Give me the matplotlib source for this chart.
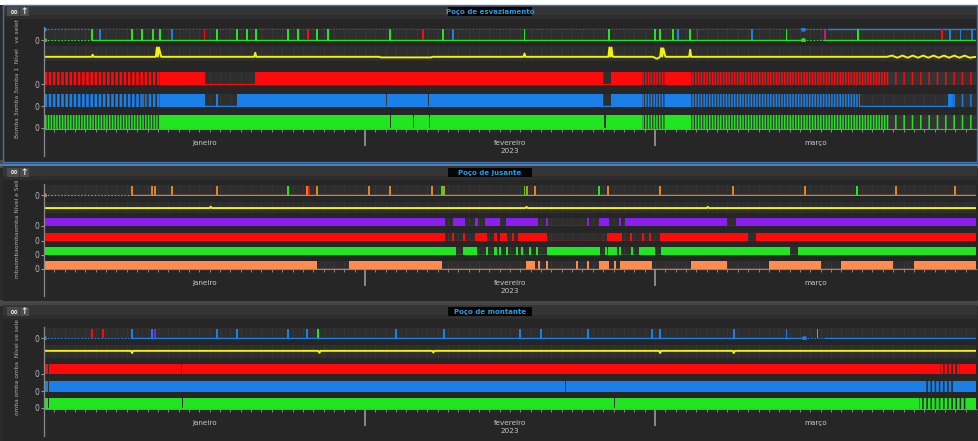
import numpy as np
import matplotlib.pyplot as plt
from matplotlib.patches import Rectangle
from matplotlib.lines import Line2D

W, H = 979, 441
plt.rcParams['hatch.linewidth'] = 1.1
plt.rcParams['font.family'] = ['DejaVu Sans']

# time axis: days since 1 Jan 2023
months = ['janeiro', 'fevereiro', 'março']
month_start = [0, 31, 59, 90]
year_label = '2023'

GREEN = '#1fe61f'
RED = '#ff0a0a'
BLUE = '#1a80e8'
YELLOW = '#f2f20a'
PURPLE = '#8c1ff0'
SALMON = '#ff8c4f'
AMBER = '#d9862a'
MAGENTA = '#c0207a'

# ---- Poço de esvaziamento ----
p1_title = 'Poço de esvaziamento'
p1_ylabel = 'Bomba 3omba 3omba 1  Nível   ve selet'
p1_pulses = [(4.6, 'g'), (5.4, 'b'), (8.5, 'g'), (9.5, 'g'), (10.5, 'g'), (11.2, 'g'),
             (12.4, 'b'), (15.5, 'r'), (16.7, 'g'), (18.6, 'g'), (19.6, 'g'), (20.5, 'g'),
             (23.6, 'g'), (24.5, 'g'), (25.5, 'r'), (26.4, 'g'), (27.4, 'g'), (33.4, 'g'),
             (36.6, 'r'), (38.5, 'g'), (39.5, 'b'), (46.4, 'g'), (54.6, 'g'), (59.0, 'g'),
             (59.5, 'g'), (60.7, 'g'), (61.2, 'b'), (62.4, 'g'), (63.1, 'r'), (68.4, 'b'),
             (71.7, 'g'), (75.4, 'm'), (78.6, 'g'), (86.7, 'r'), (87.5, 'b'), (88.5, 'b'),
             (89.6, 'b')]
p1_nodata = [(0, 4.6), (73.3, 75.2)]
p1_lvl_day = [0, 4.6, 4.7, 4.8, 10.8, 10.9, 11.0, 11.1, 11.3, 11.4, 20.3, 20.4, 20.5,
              32.4, 32.5, 37.4, 37.5, 46.3, 46.4, 46.5, 54.5, 54.6, 54.7, 54.8, 54.9, 55.0,
              58.8, 59.2, 59.5, 59.6, 59.7, 59.8, 60.0, 60.1, 62.3, 62.4, 62.5, 81.4, 81.9,
              82.4, 82.9, 83.4, 83.9, 84.4, 84.9, 85.4, 85.9, 86.4, 86.9, 87.4, 87.9, 88.4,
              88.9, 89.4, 90]
p1_lvl_val = [0.28, 0.28, 0.42, 0.28, 0.28, 0.9, 0.3, 0.9, 0.3, 0.28, 0.28, 0.55, 0.28,
              0.28, 0.24, 0.24, 0.28, 0.28, 0.5, 0.28, 0.28, 0.9, 0.3, 0.9, 0.3, 0.28,
              0.28, 0.15, 0.28, 0.85, 0.3, 0.85, 0.3, 0.28, 0.28, 0.75, 0.28, 0.28, 0.36,
              0.22, 0.36, 0.22, 0.36, 0.22, 0.36, 0.22, 0.36, 0.22, 0.36, 0.22, 0.36, 0.22,
              0.36, 0.22, 0.28]
p1_bomba1 = [(0, 11.2, 'cyc'), (11.2, 15.5, 'on'), (20.4, 54.0, 'on'), (54.8, 57.7, 'on'),
             (57.7, 60.1, 'alt'), (60.1, 62.4, 'on'), (62.4, 81.4, 'alt'), (81.4, 90, 'sp')]
p1_bomba2 = [(0, 9.5, 'cyc'), (9.5, 10.0, 'alt'), (10.0, 11.2, 'cyc'), (11.2, 15.5, 'on'),
             (16.6, 16.8, 'on'), (18.6, 33.0, 'on'), (33.1, 37.1, 'on'), (37.2, 54.0, 'on'),
             (54.8, 57.7, 'on'), (57.7, 60.1, 'alt'), (60.1, 62.4, 'on'), (62.4, 78.8, 'alt'),
             (87.3, 87.8, 'on'), (87.8, 90, 'sp')]
p1_bomba3 = [(0, 11.2, 'alt'), (11.2, 33.4, 'on'), (33.5, 35.6, 'on'), (35.7, 37.2, 'on'),
             (37.3, 54.1, 'on'), (54.3, 57.7, 'on'), (57.7, 60.1, 'alt'), (60.1, 62.4, 'on'),
             (62.4, 81.4, 'alt'), (81.4, 90, 'sp')]

# ---- Poço de jusante ----
p2_title = 'Poço de jusante'
p2_ylabel = 'mbaombaombaomba Nível e Seli'
p2_pulses = [(8.5, 'o'), (10.4, 'o'), (10.7, 'o'), (12.4, 'o'), (16.7, 'o'), (23.6, 'g'),
             (25.4, 'o'), (25.6, 'r'), (26.4, 'o'), (31.4, 'o'), (33.4, 'o'), (37.5, 'o'),
             (38.4, 'g'), (38.6, 'o'), (46.4, 'g'), (46.6, 'o'), (47.4, 'o'), (53.6, 'g'),
             (54.5, 'o'), (59.5, 'o'), (66.5, 'o'), (73.5, 'o'), (78.5, 'g'), (82.3, 'o'),
             (88.0, 'o')]
p2_nodata = [(0, 8.4)]
p2_lvl_day = [0, 16.0, 16.1, 16.2, 46.5, 46.6, 46.7, 64.0, 64.1, 64.2, 90]
p2_lvl_val = [0.45, 0.45, 0.58, 0.45, 0.45, 0.56, 0.45, 0.45, 0.56, 0.45, 0.45]
p2_bomba1 = [(0, 38.7, 'on'), (39.5, 40.7, 'on'), (41.6, 41.9, 'on'), (42.6, 44.0, 'on'),
             (44.6, 47.7, 'on'), (48.5, 48.7, 'on'), (52.4, 52.6, 'on'), (53.6, 54.6, 'on'),
             (55.5, 55.7, 'on'), (56.1, 66.0, 'on'), (66.8, 90, 'on')]
p2_bomba2 = [(0, 38.7, 'on'), (39.4, 39.6, 'on'), (40.5, 40.7, 'on'), (41.6, 42.8, 'on'),
             (43.5, 43.7, 'on'), (44.0, 44.7, 'on'), (45.2, 45.4, 'on'), (45.8, 48.6, 'on'),
             (54.4, 55.8, 'on'), (56.6, 56.8, 'on'), (57.7, 57.9, 'on'), (58.4, 58.6, 'on'),
             (59.5, 68.0, 'on'), (68.8, 90, 'on')]
p2_bomba3 = [(0, 39.8, 'on'), (40.5, 41.8, 'on'), (42.7, 42.9, 'on'), (43.5, 43.7, 'on'),
             (43.9, 44.1, 'on'), (44.6, 44.8, 'on'), (45.6, 45.8, 'on'), (46.1, 46.3, 'on'),
             (46.8, 47.0, 'on'), (47.5, 47.7, 'on'), (48.6, 53.7, 'on'), (54.2, 54.4, 'on'),
             (54.5, 55.3, 'on'), (55.5, 55.7, 'on'), (56.7, 56.9, 'on'), (57.5, 59.0, 'on'),
             (59.6, 72.0, 'on'), (72.8, 90, 'on')]
p2_bomba4 = [(0, 26.4, 'on'), (29.5, 38.4, 'on'), (46.5, 47.4, 'on'), (47.7, 47.9, 'on'),
             (48.5, 48.7, 'on'), (51.4, 51.6, 'on'), (52.4, 52.6, 'on'), (53.6, 54.6, 'on'),
             (55.0, 55.2, 'on'), (55.6, 58.7, 'on'), (62.5, 66.0, 'on'), (70.0, 75.0, 'on'),
             (77.0, 82.0, 'on'), (84.0, 90, 'on')]

# ---- Poço de montante ----
p3_title = 'Poço de montante'
p3_ylabel = 'omba omba omba  Nível ve sele'
p3_pulses = [(4.6, 'r'), (5.7, 'r'), (8.5, 'b'), (10.4, 'b'), (10.7, 'p'), (16.7, 'b'),
             (18.6, 'b'), (23.6, 'b'), (25.4, 'b'), (26.5, 'g'), (34.0, 'b'), (38.6, 'b'),
             (46.0, 'b'), (48.0, 'b'), (52.5, 'b'), (58.7, 'b'), (59.5, 'b'), (66.6, 'b'),
             (71.7, 'b'), (74.7, 'g')]
p3_nodata = [(0, 8.4), (73.4, 75.4)]
p3_lvl_day = [0, 8.4, 8.5, 8.6, 26.5, 26.6, 26.7, 37.5, 37.6, 37.7, 59.4, 59.5, 59.6,
              66.5, 66.6, 66.7, 90]
p3_lvl_val = [0.55, 0.55, 0.38, 0.55, 0.55, 0.4, 0.55, 0.55, 0.42, 0.55, 0.55, 0.38, 0.55,
              0.55, 0.38, 0.55, 0.55]
p3_bomba1 = [(0, 0.4, 'on'), (0.5, 13.2, 'on'), (13.3, 79.0, 'on'), (79.0, 86.5, 'on'),
             (86.5, 88.5, 'cyc'), (88.5, 90, 'on')]
p3_bomba2 = [(0, 0.4, 'on'), (0.5, 50.3, 'on'), (50.4, 85.0, 'on'), (85.0, 88.0, 'cyc'),
             (88.0, 90, 'on')]
p3_bomba3 = [(0, 0.4, 'on'), (0.5, 13.3, 'on'), (13.4, 55.0, 'on'), (55.1, 84.5, 'on'),
             (84.5, 89.0, 'cyc'), (89.0, 90, 'on')]

pulse_colors = {'g': GREEN, 'r': RED, 'b': BLUE, 'm': MAGENTA, 'o': AMBER, 'p': PURPLE}

TRACK_BG = '#2e2e2e'
GRID = '#3a3a3a'
OFF = '#343434'
X0, X1 = 44, 976

fig = plt.figure(figsize=(W / 100, H / 100), dpi=100)
fig.patch.set_facecolor('#2a2a2a')


def fx(x):
    return x / W


def fy(y):
    return 1 - y / H


def frect(x0, y0, x1, y1, z=-10, **kw):
    fig.add_artist(Rectangle((fx(x0), fy(y1)), fx(x1) - fx(x0), fy(y0) - fy(y1),
                             transform=fig.transFigure, zorder=z, **kw))


def track(top, bottom, zero=True):
    ax = fig.add_axes([fx(X0), fy(bottom), fx(X1) - fx(X0), fy(top) - fy(bottom)])
    ax.set_xlim(0, 90)
    ax.set_ylim(0, 1)
    ax.set_facecolor(TRACK_BG)
    for s in ax.spines.values():
        s.set_visible(False)
    ax.set_xticks([])
    ax.vlines(np.arange(1, 90), 0, 1, color=GRID, lw=0.5, zorder=0)
    if zero:
        ax.set_yticks([0.05])
        ax.set_yticklabels(['0'], fontsize=5.5, color='#b8b8b8')
        ax.tick_params(axis='y', length=2.5, color='#9a9a9a', pad=1, width=0.8)
    else:
        ax.set_yticks([])
    return ax


def state_track(top, bottom, segs, color):
    ax = track(top, bottom)
    ax.axhline(0.04, color=color, lw=1.0, zorder=1)
    for a, b, st in segs:
        if st == 'on':
            ax.add_patch(Rectangle((a, 0), b - a, 1, color=color, lw=0, zorder=2))
        elif st == 'cyc':
            ax.add_patch(Rectangle((a, 0), b - a, 1, facecolor=color, edgecolor='#2a2a2a',
                                   hatch='||||', lw=0, zorder=2))
        elif st == 'alt':
            ax.add_patch(Rectangle((a, 0), b - a, 1, facecolor=OFF, edgecolor=color,
                                   hatch='||||||', lw=0, zorder=2))
        else:
            ax.add_patch(Rectangle((a, 0), b - a, 1, facecolor=OFF, edgecolor=color,
                                   hatch='||', lw=0, zorder=2))
    return ax


def event_track(top, bottom, pulses, nodata, base, top_dots=False, top_color=None,
                top_from=None):
    ax = track(top, bottom)
    start = nodata[0][1]
    # dotted stretches where no state was logged
    for a, b in nodata:
        if top_dots:
            ax.plot([a, b], [0.92, 0.92], color=BLUE, lw=0.8, ls=(0, (1.5, 1.5)), zorder=2)
            ax.plot([a], [0.92], 'o', color=BLUE, ms=2.5, zorder=3)
        ax.plot([a, b], [0.06, 0.06], color=base, lw=0.8, ls=(0, (1.5, 1.5)), zorder=2)
        ax.plot([a], [0.06], 'o', color=base, ms=2.5, zorder=3)
    segs = [(start, 90)]
    for a, b in nodata[1:]:
        segs = [(s, e) for s, e in segs if e <= a] + \
               [(s, a) for s, e in segs if s < a < e] + [(b, e) for s, e in segs if s < a < e]
    for s, e in segs:
        ax.plot([s, e], [0.06, 0.06], color=base, lw=1.0, zorder=2)
    if top_dots:
        ax.plot([start, 90], [0.92, 0.92], color='#44586e', lw=0.6, ls=(0, (2, 2)), zorder=1)
    if top_color is not None:
        ax.plot([top_from, 90], [0.92, 0.92], color=top_color, lw=1.0, zorder=2)
    for d, c in pulses:
        ax.bar(d, 0.88, bottom=0.06, width=0.18, color=pulse_colors[c], lw=0, zorder=4)
    return ax


def level_track(top, bottom, days, vals):
    ax = track(top, bottom, zero=False)
    ax.plot(days, vals, color=YELLOW, lw=1.4, zorder=3)
    ax.plot([0, 0], [0.1, 0.75], color='#bbbbbb', lw=0.8)
    return ax


def time_axis(y_axis, y_top, y_bottom):
    ax = fig.add_axes([fx(X0), fy(y_bottom), fx(X1) - fx(X0), fy(y_axis) - fy(y_bottom)])
    ax.set_xlim(0, 90)
    ax.set_ylim(0, 1)
    ax.patch.set_visible(False)
    for k, s in ax.spines.items():
        s.set_visible(k == 'top')
    ax.spines['top'].set_color('#8a8a8a')
    ax.spines['top'].set_linewidth(0.8)
    ax.xaxis.set_ticks_position('top')
    ax.set_xticks(month_start[1:-1])
    ax.set_xticklabels([])
    ax.set_xticks(np.arange(1, 90), minor=True)
    ax.tick_params(axis='x', which='major', direction='in', length=12, width=1.4,
                   color='#8a8a8a')
    ax.tick_params(axis='x', which='minor', direction='in', length=2.5, width=0.7,
                   color='#8a8a8a')
    ax.set_yticks([])
    for i, name in enumerate(months):
        mid = (month_start[i] + month_start[i + 1]) / 2
        ax.text(mid, 0.48, name, ha='center', va='center', fontsize=5.2, color='#c8c8c8')
    mid = (month_start[1] + month_start[2]) / 2
    ax.text(mid, 0.18, year_label, ha='center', va='center', fontsize=5.2, color='#c8c8c8')
    fig.add_artist(Line2D([fx(X0), fx(X0)], [fy(y_top), fy(y_bottom)],
                          transform=fig.transFigure, color='#8a8a8a', lw=0.9))


def panel(top, bottom, title, ylabel, lab_top, lab_bottom, blue_border=False):
    frect(3, top, 977, bottom, facecolor='#262626', lw=0)
    # header strip with toolbar buttons
    frect(3, top, 977, top + 14, facecolor='#353535', lw=0)
    frect(3, top + 10, 977, top + 14, facecolor='#2d2d2d', lw=0)
    frect(7, top + 2, 19, top + 11, facecolor='#4c4c4c', lw=0)
    frect(20, top + 2, 29, top + 11, facecolor='#4c4c4c', lw=0)
    fig.text(fx(13), fy(top + 6.5), '∞', ha='center', va='center', fontsize=7,
             color='#e8e8e8', fontweight='bold')
    fig.text(fx(24.5), fy(top + 6.5), '↑', ha='center', va='center', fontsize=6.5,
             color='#e8e8e8', fontweight='bold')
    frect(448, top + 2, 532, top + 11, facecolor='#050505', lw=0)
    fig.text(fx(490), fy(top + 6.8), title, ha='center', va='center', fontsize=5,
             color='#2a9be0', fontweight='bold')
    fig.text(fx(18), fy((lab_top + lab_bottom) / 2), ylabel, rotation=90, ha='center',
             va='center', fontsize=4.2, color='#b0b0b0')
    if blue_border:
        frect(3, top, 977, bottom, z=-9, facecolor='none', edgecolor='#3f74b0', lw=1.0)


# page chrome
frect(0, 0, 979, 5, facecolor='white', lw=0)
frect(0, 160, 979, 168, facecolor='#4a4a4a', lw=0)
frect(0, 300, 979, 306, facecolor='#474747', lw=0)

panel(5, 162, p1_title, p1_ylabel, 25, 131, blue_border=True)
panel(166, 301, p2_title, p2_ylabel, 188, 270)
frect(0, 164, 979, 165.5, facecolor='#4f7fb0', lw=0)
panel(305, 441, p3_title, p3_ylabel, 326, 408)

# esvaziamento
event_track(28, 41, p1_pulses, p1_nodata, GREEN, top_dots=True, top_color=BLUE,
            top_from=75.7)
level_track(46, 61, p1_lvl_day, p1_lvl_val)
state_track(72, 85, p1_bomba1, RED)
state_track(94, 107, p1_bomba2, BLUE)
state_track(115, 128.5, p1_bomba3, GREEN)
time_axis(128.5, 27, 156)

# jusante
event_track(185, 196, p2_pulses, p2_nodata, AMBER)
level_track(202, 213, p2_lvl_day, p2_lvl_val)
state_track(218, 226, p2_bomba1, PURPLE)
state_track(233, 241, p2_bomba2, RED)
state_track(247, 255, p2_bomba3, GREEN)
state_track(261, 269, p2_bomba4, SALMON)
time_axis(269, 184, 296)

# montante
event_track(328, 339, p3_pulses, p3_nodata, BLUE)
level_track(345, 358, p3_lvl_day, p3_lvl_val)
state_track(364, 374, p3_bomba1, RED)
state_track(381, 392, p3_bomba2, BLUE)
state_track(398, 408.5, p3_bomba3, GREEN)
time_axis(408.5, 327, 436)

fig.savefig('out.png', dpi=100, facecolor=fig.get_facecolor())
